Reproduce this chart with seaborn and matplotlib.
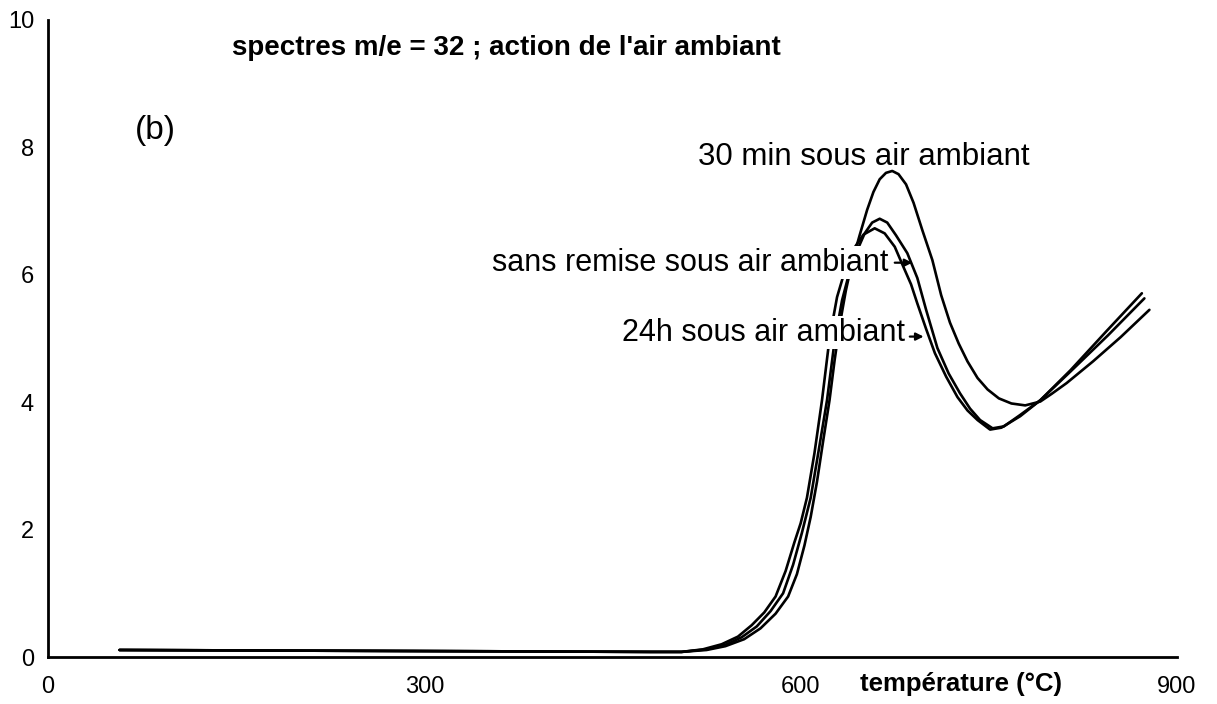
import numpy as np
import pandas as pd
import matplotlib
matplotlib.use("Agg")
import matplotlib.pyplot as plt
import seaborn as sns

# Thermal desorption spectra, m/e = 32 (temperature in °C, signal in a.u.)
t_30min = [57, 200, 350, 480, 505, 525, 540, 555, 568, 580, 590, 597, 603, 608,
           613, 618, 623, 627, 631, 636, 641, 647, 653, 658, 663, 668, 673, 678,
           684, 690, 697, 705, 712, 719, 726, 733, 741, 749, 758, 768, 779, 791,
           800, 812, 833, 855, 878]
v_30min = [0.11, 0.10, 0.09, 0.08, 0.08, 0.11, 0.17, 0.28, 0.45, 0.68, 0.95, 1.30,
           1.75, 2.20, 2.75, 3.40, 4.03, 4.65, 5.20, 5.75, 6.20, 6.62, 7.02, 7.30,
           7.50, 7.60, 7.63, 7.58, 7.42, 7.13, 6.70, 6.23, 5.68, 5.25, 4.92, 4.64,
           4.38, 4.20, 4.06, 3.98, 3.95, 4.01, 4.13, 4.30, 4.64, 5.02, 5.45]

t_sans = [57, 200, 350, 480, 505, 525, 540, 553, 565, 576, 586, 594, 601, 608,
          614, 621, 627, 633, 639, 645, 651, 657, 663, 669, 676, 685, 693, 700,
          709, 718, 727, 735, 743, 753, 762, 775, 791, 815, 844, 872]
v_sans = [0.11, 0.10, 0.09, 0.08, 0.08, 0.12, 0.19, 0.31, 0.48, 0.72, 1.00, 1.45,
          1.95, 2.50, 3.20, 4.03, 4.95, 5.60, 6.05, 6.38, 6.65, 6.82, 6.88, 6.82,
          6.62, 6.34, 5.95, 5.45, 4.85, 4.45, 4.14, 3.90, 3.72, 3.59, 3.62, 3.80,
          4.03, 4.50, 5.12, 5.71]

t_24h = [57, 200, 350, 480, 505, 522, 537, 550, 561, 571, 580, 588, 595, 600,
         605, 611, 617, 623, 629, 635, 642, 650, 659, 667, 675, 682, 688, 693,
         700, 707, 716, 725, 733, 741, 751, 760, 775, 791, 815, 845, 874]
v_24h = [0.11, 0.10, 0.09, 0.08, 0.08, 0.12, 0.20, 0.32, 0.50, 0.70, 0.95, 1.35,
         1.80, 2.10, 2.50, 3.20, 4.03, 5.00, 5.65, 6.05, 6.40, 6.63, 6.73, 6.65,
         6.44, 6.12, 5.85, 5.55, 5.15, 4.77, 4.40, 4.08, 3.87, 3.72, 3.57, 3.60,
         3.78, 4.03, 4.48, 5.05, 5.63]

series_names = ["30 min sous air ambiant", "sans remise sous air ambiant",
                "24h sous air ambiant"]

x_major = [0, 300, 600, 900]
x_minor = [150, 450, 750]
y_major = [0, 2, 4, 6, 8, 10]
y_minor = [1, 3, 5, 7, 9]

title_text = "spectres m/e = 32 ; action de l'air ambiant"
panel_text = "(b)"
xlabel_text = "température (°C)"

frames = []
for name, t, v in zip(series_names, [t_30min, t_sans, t_24h],
                      [v_30min, v_sans, v_24h]):
    frames.append(pd.DataFrame({"T": t, "signal": v, "serie": name}))
df = pd.concat(frames, ignore_index=True)

sns.set_theme(style="white")
plt.rcParams["font.family"] = ["Liberation Sans", "DejaVu Sans"]

fig = plt.figure(figsize=(12.17, 7.04), dpi=100)
ax = fig.add_axes([48 / 1217, 47 / 704, 1129 / 1217, 637 / 704])

sns.lineplot(data=df, x="T", y="signal", hue="serie", units="serie",
             estimator=None, sort=False, palette=["black"] * 3,
             linewidth=1.9, legend=False, ax=ax, zorder=2)

ax.set_xlim(0, 900)
ax.set_ylim(0, 10)
ax.set_xlabel("")
ax.set_ylabel("")
for side in ["top", "right"]:
    ax.spines[side].set_visible(False)
for side in ["left", "bottom"]:
    ax.spines[side].set_linewidth(2.0)
    ax.spines[side].set_color("black")

ax.set_xticks(x_major)
ax.set_xticks(x_minor, minor=True)
ax.set_yticks(y_major)
ax.set_yticks(y_minor, minor=True)
ax.tick_params(axis="both", which="major", direction="out", length=6,
               width=1.6, color="black", labelsize=17, labelcolor="black")
ax.tick_params(axis="both", which="minor", direction="out", length=3,
               width=1.2, color="black")
ax.tick_params(axis="x", which="major", pad=8)
ax.tick_params(axis="y", which="major", pad=4)
ax.grid(False)

# Title and panel tag
fig.text(232 / 1217, 1 - 48 / 704, title_text, fontsize=20, fontweight="bold",
         ha="left", va="center", color="black")
ax.text(69, 8.27, panel_text, fontsize=24, ha="left", va="center",
        color="black")

# Axis title placed on the tick-label row
ax.text(647, -0.42, xlabel_text, fontsize=18.5, fontweight="bold",
        ha="left", va="center", clip_on=False, color="black")

# Curve labels, masking the traces that run behind them
box = dict(boxstyle="square,pad=0.05", facecolor="white", edgecolor="none")
ax.text(518, 7.85, series_names[0], fontsize=22.5, ha="left", va="center",
        color="black", zorder=3)
ax.text(670, 6.19, series_names[1], fontsize=22, ha="right", va="center",
        color="black", bbox=box, zorder=3)
ax.text(683, 5.09, series_names[2], fontsize=22, ha="right", va="center",
        color="black", bbox=box, zorder=3)

arrow_kw = dict(arrowstyle="-|>", color="black", lw=1.6, mutation_scale=11,
                shrinkA=0, shrinkB=0)
ax.annotate("", xy=(689, 6.19), xytext=(675, 6.19), arrowprops=arrow_kw,
            zorder=4)
ax.annotate("", xy=(698, 5.03), xytext=(687, 5.03), arrowprops=arrow_kw,
            zorder=4)

fig.savefig("out.png", dpi=100, facecolor="white")
